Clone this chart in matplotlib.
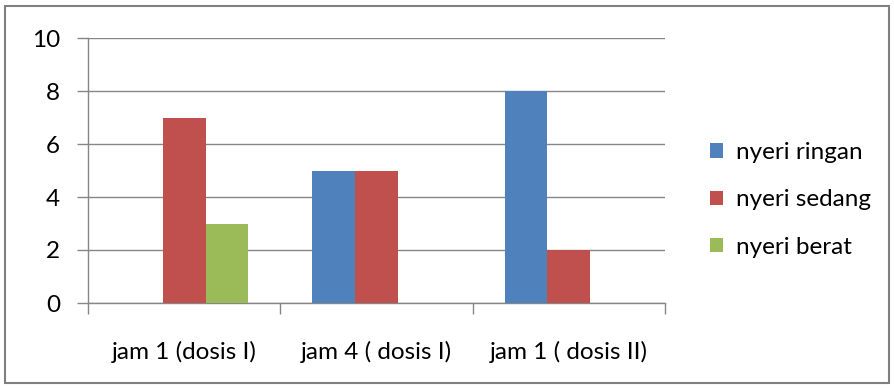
import matplotlib
matplotlib.use("Agg")
import matplotlib.pyplot as plt
from matplotlib.patches import Rectangle
import numpy as np

categories = ["jam 1 (dosis I)", "jam 4 ( dosis I)", "jam 1 ( dosis II)"]
series_names = ["nyeri ringan", "nyeri sedang", "nyeri berat"]
ringan = [0, 5, 8]
sedang = [7, 5, 2]
berat = [3, 0, 0]
colors = ["#4F81BD", "#C0504D", "#9BBB59"]
yticks = [0, 2, 4, 6, 8, 10]

plt.rcParams['font.family'] = ['Lato', 'DejaVu Sans']
FS = 17.5

W, H = 895, 389
fig = plt.figure(figsize=(W / 100, H / 100), dpi=100)
ax = fig.add_axes([88 / W, 1 - 303 / H, (665 - 88) / W, (303 - 38) / H])

x = np.arange(len(categories))
w = 1 / 4.5
for i, (vals, name, c) in enumerate(zip([ringan, sedang, berat], series_names, colors)):
    ax.bar(x + (i - 1) * w, vals, width=w, color=c, label=name, zorder=3)

ax.set_xlim(-0.5, len(categories) - 0.5)
ax.set_ylim(0, 10)
ax.set_yticks(yticks)
ax.set_yticklabels([str(v) for v in yticks], fontsize=FS)
ax.yaxis.grid(True, color="#868686", linewidth=1, zorder=0)
ax.set_xticks(np.arange(-0.5, len(categories), 1.0))
ax.set_xticklabels([])
ax.set_xticks(x, minor=True)
ax.set_xticklabels(categories, minor=True, fontsize=FS)
ax.tick_params(axis='x', which='minor', length=0, pad=27)
ax.tick_params(axis='x', which='major', length=8, color="#868686", width=1)
ax.tick_params(axis='y', length=8, color="#868686", width=1, pad=12)
for s in ["top", "right"]:
    ax.spines[s].set_visible(False)
for s in ["left", "bottom"]:
    ax.spines[s].set_color("#868686")
    ax.spines[s].set_linewidth(1)

leg = ax.legend(loc="center left", bbox_to_anchor=(710 / W, 1 - 200 / H), bbox_transform=fig.transFigure,
                frameon=False, fontsize=FS, handlelength=0.55, handleheight=0.55,
                handletextpad=0.5, labelspacing=1.08, borderpad=0, borderaxespad=0)

fig.patches.append(Rectangle((5 / W, 6 / H), (889 - 5) / W, (383 - 6) / H, transform=fig.transFigure,
                             fill=False, edgecolor="#7f7f7f", linewidth=1.5))

fig.savefig("out.png", dpi=100)
